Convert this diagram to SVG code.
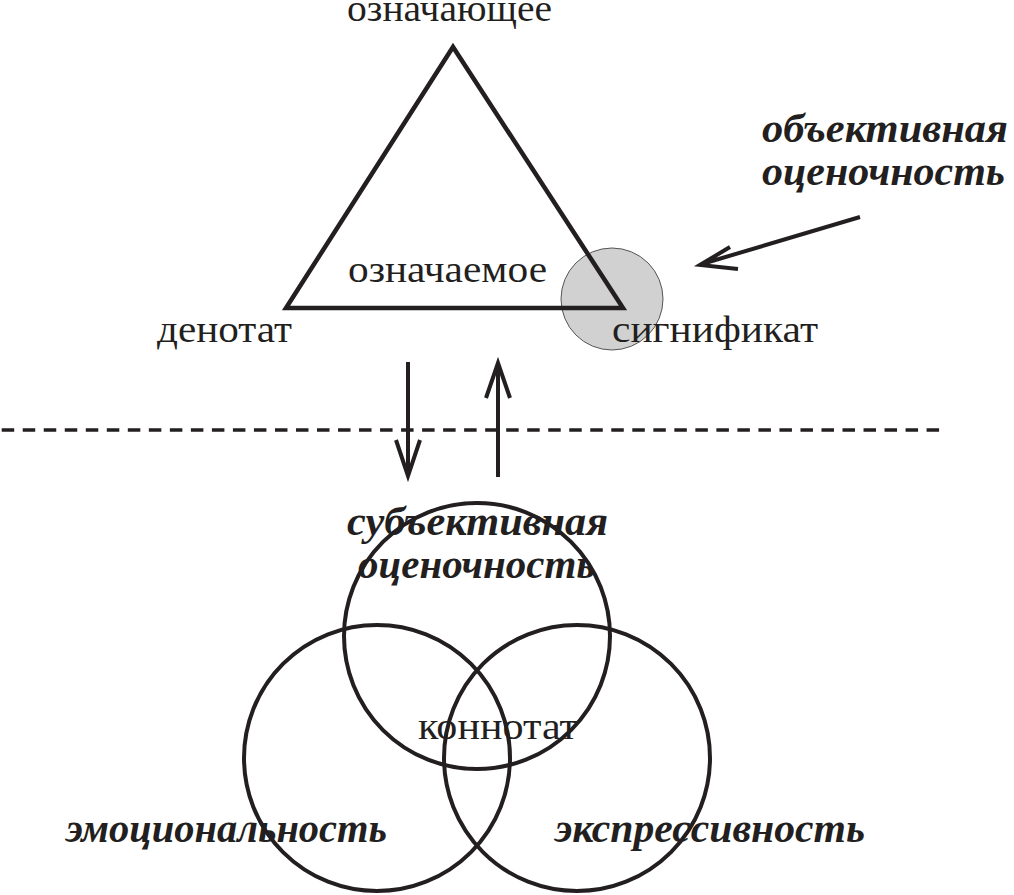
<svg xmlns="http://www.w3.org/2000/svg" width="1014" height="895" viewBox="0 0 1014 895">
<style>
.reg{font-family:"Liberation Serif","Times New Roman",serif;font-size:38px;fill:#231f20}
.bi{font-family:"Liberation Serif","Times New Roman",serif;font-size:40px;font-weight:bold;font-style:italic;fill:#231f20}
.ln{fill:none;stroke:#231f20;stroke-width:4}
.circ{fill:none;stroke:#231f20;stroke-width:4}
</style>
<rect width="1014" height="895" fill="#ffffff"/>
<g id="significat-circle">
<circle cx="612" cy="299" r="51" fill="#d1d1d1" stroke="#555" stroke-width="1"/>
</g>
<g id="triangle">
<polygon points="286,308 453,47 623,308" fill="none" stroke="#231f20" stroke-width="4.5" stroke-linejoin="miter"/>
</g>
<g id="labels-top">
<text class="reg" x="347" y="21" textLength="205" lengthAdjust="spacingAndGlyphs">означающее</text>
<text class="reg" x="348" y="282" textLength="199" lengthAdjust="spacingAndGlyphs">означаемое</text>
<text class="reg" x="157" y="342" textLength="135" lengthAdjust="spacingAndGlyphs">денотат</text>
<text class="reg" x="612" y="342" textLength="206" lengthAdjust="spacingAndGlyphs">сигнификат</text>
</g>
<g id="objective">
<text class="bi" x="762" y="142" textLength="246" lengthAdjust="spacingAndGlyphs">объективная</text>
<text class="bi" x="762" y="185" textLength="243" lengthAdjust="spacingAndGlyphs">оценочность</text>
</g>
<g id="connectors">
<line x1="0" y1="430" x2="940" y2="430" stroke="#231f20" stroke-width="3.5" stroke-dasharray="12.5 8.52" stroke-dashoffset="-1.7"/>
<path class="ln" d="M408,362 V475 M396,440 L408,476 L420,440"/>
<path class="ln" d="M498,477 V364 M486,398 L498,363 L510,398"/>
<path class="ln" d="M860,217 L702,264 M730,247 L700,265 L738,269"/>
</g>
<g id="circle-subjective">
<circle class="circ" cx="477" cy="636" r="133"/>
</g>
<g id="circle-emotional">
<circle class="circ" cx="377" cy="758" r="133"/>
</g>
<g id="circle-expressive">
<circle class="circ" cx="577" cy="758" r="133"/>
</g>
<g id="labels-bottom">
<text class="bi" x="347" y="535" textLength="261" lengthAdjust="spacingAndGlyphs">субъективная</text>
<text class="bi" x="358" y="578" textLength="237" lengthAdjust="spacingAndGlyphs">оценочность</text>
<text class="reg" x="418" y="739" textLength="160" lengthAdjust="spacingAndGlyphs">коннотат</text>
<text class="bi" x="66" y="842" textLength="321" lengthAdjust="spacingAndGlyphs">эмоциональность</text>
<text class="bi" x="555" y="842" textLength="310" lengthAdjust="spacingAndGlyphs">экспрессивность</text>
</g>
</svg>
